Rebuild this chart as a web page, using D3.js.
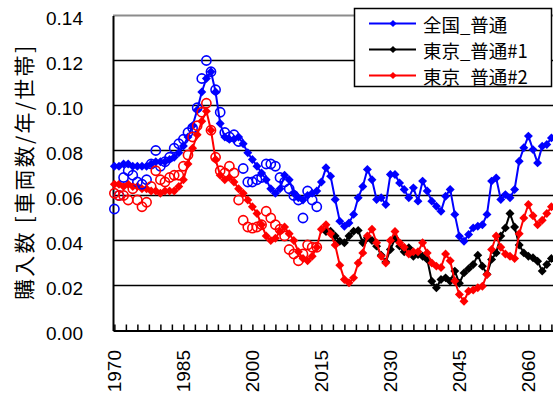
<!DOCTYPE html>
<html><head><meta charset="utf-8">
<script src="https://cdn.jsdelivr.net/npm/d3@7"></script>
<style>body{margin:0;background:#fff}svg{display:block}</style>
</head><body>
<script>
// ---- data ----
const allYears = d3.range(1970, 2066);      // 1970..2065
const obsYears = d3.range(1970, 2015);      // 1970..2014 (open circles)
const tokyo1Years = d3.range(2016, 2066);   // 2016..2065

const zenkoku = [ // 全国_普通 1970-2065
  .073,.073,.074,.074,.073,.073,.073,.073,.074,.075,
  .075,.075,.076,.077,.079,.082,.086,.091,.098,.106,
  .112,.115,.106,.092,.086,.085,.085,.086,.083,.079,
  .076,.073,.070,.067,.063,.061,.063,.069,.067,.061,
  .059,.058,.060,.061,.062,.066,.0723,.0686,.0582,.0486,
  .0463,.0478,.0516,.059,.064,.0716,.067,.0582,.059,.056,
  .0693,.0693,.0656,.0627,.059,.0634,.0575,.0664,.062,.0575,
  .0552,.053,.0597,.0627,.0516,.0419,.0397,.0427,.0456,.0463,
  .047,.0516,.0664,.0678,.0582,.0604,.059,.0627,.0752,.0812,
  .0864,.0804,.0745,.0819,.0827,.0856];

const tokyo1 = [ // 東京_普通#1 2016-2065
  .044,.0441,.042,.0397,.039,.042,.0441,.0445,.039,.0412,
  .040,.0375,.0335,.0305,.036,.041,.0375,.035,.0368,.033,
  .0338,.033,.0316,.0219,.019,.0227,.0234,.0219,.0264,.021,
  .0256,.0275,.0293,.0335,.0286,.025,.0316,.0345,.042,.0456,
  .052,.046,.038,.0345,.033,.0323,.0308,.0264,.0293,.032];

const tokyo2 = [ // 東京_普通#2 1970-2065
  .065,.065,.064,.065,.064,.064,.063,.063,.062,.062,
  .061,.062,.062,.062,.064,.067,.074,.081,.087,.093,
  .0975,.089,.076,.069,.067,.068,.066,.063,.061,.058,
  .055,.052,.047,.042,.040,.041,.044,.046,.043,.040,
  .035,.032,.031,.033,.037,.045,.047,.043,.038,.029,
  .0227,.0212,.0234,.030,.0345,.042,.045,.039,.033,.030,
  .040,.044,.039,.037,.034,.035,.035,.039,.0345,.030,
  .0286,.028,.034,.031,.022,.016,.013,.0175,.018,.019,
  .0197,.0249,.036,.042,.037,.034,.033,.032,.043,.050,
  .056,.051,.047,.049,.052,.055];

const zenkokuObs = [ // open blue circles 1970-2014
  .054,.060,.068,.071,.069,.066,.065,.067,.074,.080,
  .073,.075,.077,.081,.083,.085,.088,.090,.099,.112,
  .120,.115,.107,.097,.088,.086,.087,.084,.072,.066,
  .066,.067,.068,.074,.074,.073,.068,.066,.063,.060,
  .058,.050,.062,.058,.055];

const tokyoObs = [ // open red circles 1970-2014
  .061,.060,.060,.058,.063,.058,.055,.057,.064,.071,
  .067,.066,.068,.069,.069,.073,.078,.086,.091,.097,
  .101,.089,.077,.071,.070,.073,.070,.058,.049,.046,
  .0455,.046,.047,.053,.050,.047,.045,.042,.036,.034,
  .031,.034,.038,.037,.037];

const yTicks = [0, 0.02, 0.04, 0.06, 0.08, 0.10, 0.12, 0.14];
const xLabelYears = [1970, 1985, 2000, 2015, 2030, 2045, 2060];
const xMinorTicks = d3.range(1970, 2067, 2.5);
const seriesNames = ["全国_普通", "東京_普通#1", "東京_普通#2"];
const seriesColors = ["#0000ff", "#000000", "#ff0000"];
const yTitle = "購入数 [車両数/年/世帯]";

// ---- drawing ----
const W = 553, H = 394;
const svg = d3.select("body").append("svg").attr("width", W).attr("height", H);
const x = d3.scaleLinear().domain([1969.7, 2067]).range([113, 560.6]);
const y = d3.scaleLinear().domain([0, 0.14]).range([330.5, 15.5]);
const numFont = "'Liberation Sans', Arial, sans-serif";
const jpFont = "'Noto Sans CJK JP', sans-serif";

// gridlines
svg.append("g").selectAll("line").data(yTicks.filter(v => v > 0)).join("line")
  .attr("x1", x.range()[0]).attr("x2", x.range()[1])
  .attr("y1", d => y(d)).attr("y2", d => y(d))
  .attr("stroke", d => d === 0.14 ? "#8c8c8c" : "#000")
  .attr("stroke-width", d => d === 0.14 ? 2 : 1.5);

// y axis
const yAxis = svg.append("g").attr("transform", `translate(${x.range()[0]},0)`)
  .call(d3.axisLeft(y).tickValues(yTicks).tickSize(0).tickPadding(30)
    .tickFormat(d3.format(".2f")));
yAxis.select(".domain").attr("stroke", "#000").attr("stroke-width", 2);
yAxis.selectAll("text").attr("font-family", numFont).attr("font-size", 19)
  .attr("fill", "#000").attr("dy", "0.47em");

// x axis (minor ticks inward)
const xAxis = svg.append("g").attr("transform", `translate(0,${y(0)})`)
  .call(d3.axisBottom(x).tickValues(xMinorTicks).tickSize(-6).tickSizeOuter(0).tickFormat(""));
xAxis.select(".domain").attr("stroke", "#000").attr("stroke-width", 2);
xAxis.selectAll(".tick line").attr("stroke", "#000").attr("stroke-width", 1.5);

// x labels rotated
svg.append("g").selectAll("text").data(xLabelYears).join("text")
  .attr("transform", d => `translate(${x(d)},350) rotate(-90)`)
  .attr("text-anchor", "end").attr("dy", "0.36em")
  .attr("font-family", numFont).attr("font-size", 19).attr("fill", "#000")
  .text(d => d);

// y title
svg.append("text")
  .attr("transform", `translate(23,${(y(0) + y(0.14)) / 2}) rotate(-90)`)
  .attr("text-anchor", "middle").attr("dominant-baseline", "central")
  .attr("font-family", jpFont).attr("font-size", 21)
  .attr("textLength", 254).attr("lengthAdjust", "spacing")
  .text(yTitle);

const line = d3.line().x(d => x(d[0])).y(d => y(d[1]));
const diamond = d3.symbol(d3.symbolSquare, 40);

function drawLineSeries(years, vals, color) {
  const pts = years.map((yr, i) => [yr, vals[i]]);
  const g = svg.append("g");
  g.append("path").attr("d", line(pts)).attr("fill", "none")
    .attr("stroke", color).attr("stroke-width", 2);
  g.selectAll("path.m").data(pts).join("path").attr("class", "m")
    .attr("d", diamond)
    .attr("transform", d => `translate(${x(d[0])},${y(d[1])}) rotate(45)`)
    .attr("fill", color);
}
function drawCircles(years, vals, color) {
  const pts = years.map((yr, i) => [yr, vals[i]]);
  svg.append("g").selectAll("circle").data(pts).join("circle")
    .attr("cx", d => x(d[0])).attr("cy", d => y(d[1])).attr("r", 4.6)
    .attr("fill", "none").attr("stroke", color).attr("stroke-width", 1.6);
}

drawLineSeries(allYears, zenkoku, seriesColors[0]);
drawLineSeries(tokyo1Years, tokyo1, seriesColors[1]);
drawLineSeries(allYears, tokyo2, seriesColors[2]);
drawCircles(obsYears, zenkokuObs, seriesColors[0]);
drawCircles(obsYears, tokyoObs, seriesColors[2]);

// legend
const lg = svg.append("g");
lg.append("rect").attr("x", 354.5).attr("y", 8.5).attr("width", 197).attr("height", 78)
  .attr("fill", "#fff").attr("stroke", "#000").attr("stroke-width", 1.5);
const rowY = [23.5, 49.5, 75.5];
seriesNames.forEach((name, i) => {
  lg.append("line").attr("x1", 369).attr("x2", 416).attr("y1", rowY[i]).attr("y2", rowY[i])
    .attr("stroke", seriesColors[i]).attr("stroke-width", 2);
  lg.append("path").attr("d", d3.symbol(d3.symbolSquare, 26)())
    .attr("transform", `translate(393,${rowY[i]}) rotate(45)`).attr("fill", seriesColors[i]);
  lg.append("text").attr("x", 423).attr("y", rowY[i]).attr("dominant-baseline", "central")
    .attr("font-family", jpFont).attr("font-size", 18.5).attr("fill", "#000").text(name);
});
</script>
</body></html>
